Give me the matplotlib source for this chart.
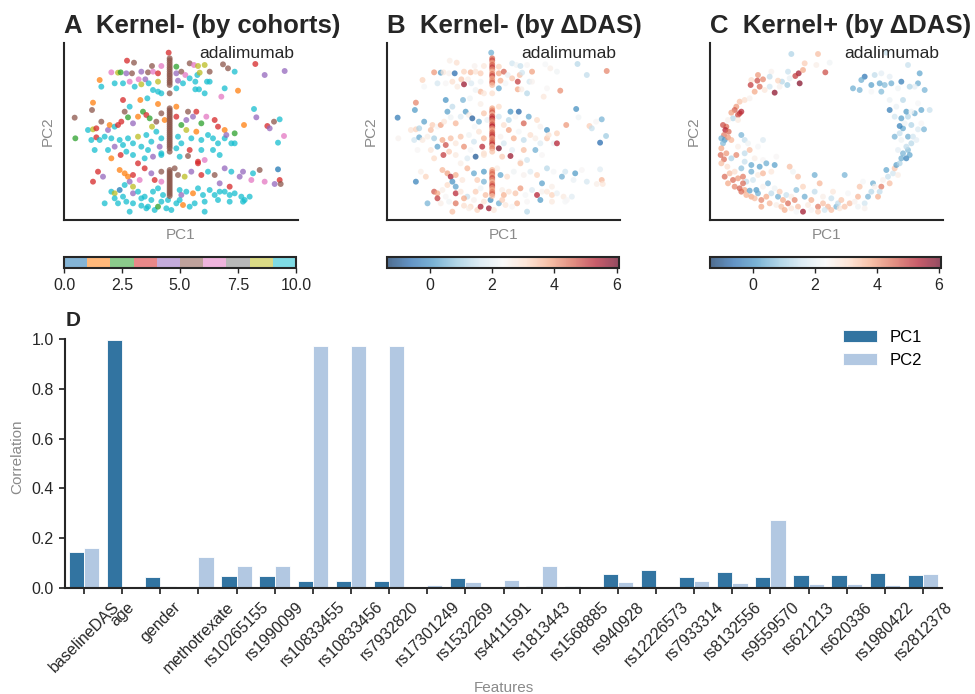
import numpy as np
import matplotlib
matplotlib.use("Agg")
import matplotlib.pyplot as plt
from matplotlib.colors import ListedColormap, Normalize, to_rgba
from matplotlib.cm import ScalarMappable

plt.rcParams['font.family'] = ['Liberation Sans', 'DejaVu Sans']

# ---------------- Data: Kernel- embedding (shared by panels A and B) ----------------
kminus_pc1 = [
    32.2, 19.7, 21.8, 27.2, 30.0, 34.5, 38.5, 39.8, 41.0, 43.0, 48.5, 50.0, 52.0, 58.2, 61.0, 67.0,
    15.0, 17.0, 17.8, 19.5, 21.2, 24.0, 26.0, 27.5, 29.0, 34.5, 36.0, 37.2, 40.8, 41.5, 44.5,
    11.5, 16.0, 18.5, 20.5, 23.2, 24.0, 25.2, 26.2, 29.0, 35.0, 36.5, 38.5, 40.2, 43.7, 44.5,
    12.0, 22.0, 29.0, 27.5, 30.0, 34.5, 40.2, 41.3, 43.0, 49.0, 53.0, 48.0, 18.5, 23.7, 25.8,
    9.5, 9.2, 20.5, 29.0, 34.5, 57.8,
    4.0, 12.0, 8.0, 9.5, 10.5, 4.2, 9.0, 10.5, 11.5, 14.0, 14.5, 16.0, 17.0, 18.0, 19.0, 20.0,
    21.5, 23.0, 24.5, 25.5, 26.5, 27.2, 28.5, 30.0, 31.0, 34.5, 36.0, 37.5, 38.0, 39.5, 40.5,
    42.0, 43.5, 46.0, 47.0, 49.0, 52.0, 54.8, 58.5, 61.8, 63.8, 65.5, 62.5, 66.8, 65.0,
    13.0, 15.0, 16.0, 17.5, 18.5, 20.0, 21.5, 23.0, 24.0, 25.5, 27.0, 28.5, 30.0, 29.5, 35.0,
    36.0, 37.5, 39.0, 40.5, 42.0, 44.0, 45.5, 47.0, 49.0, 51.0, 52.0, 49.5,
    10.0, 14.0, 19.5, 21.5, 26.0, 30.0, 34.5, 38.5, 42.0, 45.5, 47.5, 15.0, 23.0, 25.0, 30.0,
    35.5, 41.0, 43.0, 17.8, 27.5, 38.0,
    11.0, 9.5, 12.5, 17.5, 19.0, 20.0, 21.5, 20.5, 21.5, 23.5, 25.0, 27.0, 28.0, 30.0, 30.0,
    34.0, 35.0, 37.0, 39.0, 41.0, 42.0, 44.0, 46.0, 47.5, 49.0, 50.5, 51.0, 53.5, 54.5, 57.5,
    59.5, 57.0, 61.0, 64.0, 65.5, 65.8, 65.0,
    15.0, 16.0, 17.5, 19.0, 16.0, 18.5, 21.5, 23.0, 25.0, 27.5, 29.0, 30.5, 35.5, 36.0, 37.5,
    39.5, 41.0, 42.5, 44.5, 46.0, 47.5, 49.0, 50.5, 52.0, 54.0, 55.0, 56.5,
    13.0, 17.0, 19.5, 21.5, 24.0, 26.0, 27.0, 30.0, 32.0, 34.5, 35.5, 36.5, 40.0, 43.0, 47.0,
    50.5, 54.5, 20.5, 25.5, 28.0, 31.5, 33.0, 38.5, 43.0, 24.0, 29.0,
    # vertical stripe
    32.5, 32.5, 32.5, 32.5, 32.5, 32.5, 32.5, 32.5, 32.5, 32.5, 32.5, 32.5, 32.5, 32.5,
    32.5, 32.5, 32.5, 32.5, 32.5, 32.5, 32.5, 32.5, 32.5, 32.5, 32.5, 32.5, 32.5, 32.5,
    32.5, 32.5, 32.5, 32.5, 32.5, 32.5, 32.5, 32.5,
    32.5, 32.5, 32.5, 32.5, 32.5, 32.5, 32.5, 32.5, 32.5, 32.5, 32.5, 32.5, 32.5, 32.5,
]
kminus_pc2 = [
    50.2, 47.8, 47.2, 46.2, 46.2, 46.0, 47.0, 46.5, 46.2, 46.5, 46.7, 45.5, 44.5, 46.8, 43.5, 44.7,
    44.3, 44.2, 44.3, 44.0, 44.0, 44.5, 44.3, 44.5, 44.0, 44.0, 44.5, 43.5, 43.5, 44.2, 44.5,
    42.0, 41.0, 41.0, 41.5, 42.2, 40.7, 42.2, 41.0, 41.5, 41.8, 41.0, 42.5, 41.5, 41.5, 41.5,
    40.0, 40.0, 38.5, 39.0, 38.0, 39.5, 39.2, 39.2, 38.0, 39.5, 38.8, 37.0, 36.0, 36.0, 36.5,
    35.2, 33.0, 34.0, 34.8, 34.0, 33.3,
    30.7, 29.5, 27.0, 27.2, 27.5, 24.5, 24.0, 24.8, 24.0, 27.0, 28.5, 28.0, 28.5, 29.5, 32.5, 30.8,
    29.0, 31.0, 32.5, 31.5, 30.5, 28.0, 29.5, 32.0, 30.0, 31.0, 28.5, 30.0, 32.5, 31.0, 32.5,
    29.0, 31.0, 30.0, 28.0, 27.0, 26.0, 28.5, 30.8, 28.2, 29.5, 30.2, 27.5, 25.2, 23.2,
    25.0, 24.5, 22.0, 24.0, 22.5, 24.5, 23.0, 25.0, 22.0, 25.5, 23.5, 26.5, 24.5, 22.0, 25.0,
    23.0, 27.0, 24.5, 26.5, 24.0, 25.5, 24.5, 23.0, 24.5, 23.0, 23.0, 25.5,
    21.0, 21.0, 20.5, 19.5, 21.0, 20.0, 21.5, 21.0, 21.0, 21.0, 19.5, 18.5, 17.0, 18.5, 19.5,
    19.0, 17.5, 18.0, 19.5, 19.0, 19.2,
    14.5, 11.5, 13.0, 15.0, 14.0, 13.0, 13.5, 11.5, 10.0, 12.0, 15.5, 14.0, 12.0, 14.5, 11.5,
    15.5, 13.5, 13.0, 14.5, 17.0, 13.5, 14.5, 13.5, 11.0, 15.5, 10.0, 14.5, 13.0, 14.5, 14.0,
    15.0, 12.0, 11.5, 10.8, 12.0, 10.8, 15.2,
    8.5, 8.0, 9.0, 10.5, 6.5, 7.0, 8.0, 8.5, 7.0, 8.5, 9.5, 7.5, 9.0, 7.5, 8.5,
    8.0, 9.5, 7.5, 9.0, 7.5, 8.5, 8.5, 7.5, 8.0, 7.0, 6.0, 7.0,
    5.0, 5.0, 5.5, 5.0, 6.5, 4.0, 6.0, 5.5, 6.0, 5.0, 6.0, 4.5, 5.0, 5.5, 6.0,
    5.5, 5.5, 2.5, 3.5, 3.0, 3.5, 3.0, 4.0, 2.5, 4.3, 4.0,
    # vertical stripe
    48.5, 47.9, 47.2, 46.5, 45.8, 45.2, 44.5, 43.8, 43.2, 42.5, 41.8, 41.2, 40.5, 38.0,
    33.5, 32.9, 32.3, 31.7, 31.1, 30.5, 29.9, 29.3, 28.7, 28.1, 27.5, 26.9, 26.3, 25.7,
    25.1, 24.5, 23.9, 23.3, 22.7, 22.1, 21.5, 20.5,
    15.0, 14.4, 13.8, 13.2, 12.6, 12.0, 11.4, 10.8, 10.2, 9.6, 9.0, 8.4, 7.8, 7.2,
]
kminus_cohort = [
    3, 3, 5, 5, 6, 2, 5, 6, 8, 8, 5, 5, 9, 3, 4, 4,
    6, 8, 2, 4, 5, 4, 5, 6, 3, 4, 5, 6, 9, 8, 5,
    1, 9, 9, 6, 6, 8, 4, 9, 8, 4, 9, 9, 9, 9, 9,
    9, 9, 9, 9, 9, 9, 9, 9, 9, 9, 1, 6, 3, 1, 9,
    1, 5, 9, 1, 1, 9,
    5, 5, 9, 8, 3, 2, 9, 3, 9, 4, 1, 9, 3, 3, 5, 2,
    4, 1, 2, 3, 2, 8, 5, 5, 1, 3, 2, 4, 5, 4, 3,
    2, 6, 3, 3, 1, 2, 1, 4, 3, 5, 9, 4, 6, 9,
    9, 9, 4, 9, 9, 9, 9, 8, 9, 9, 9, 9, 9, 4, 9,
    9, 8, 9, 1, 9, 9, 9, 9, 9, 9, 9, 4,
    9, 9, 9, 9, 9, 9, 9, 3, 9, 9, 9, 1, 3, 9, 9,
    9, 3, 6, 3, 4, 5,
    3, 3, 4, 1, 1, 1, 3, 4, 8, 6, 3, 4, 3, 5, 6,
    5, 5, 8, 4, 3, 3, 9, 5, 4, 4, 3, 9, 4, 4, 9,
    5, 6, 6, 4, 3, 5, 0,
    9, 8, 0, 9, 9, 9, 4, 9, 9, 9, 9, 9, 9, 4, 9,
    1, 9, 9, 9, 9, 9, 9, 9, 9, 9, 9, 9,
    9, 9, 9, 9, 9, 9, 9, 9, 9, 9, 9, 1, 9, 9, 9,
    9, 9, 9, 9, 9, 9, 9, 9, 9, 9, 2,
    # vertical stripe
    5, 5, 5, 5, 5, 5, 5, 5, 5, 5, 5, 5, 5, 5,
    5, 5, 5, 5, 5, 5, 5, 5, 5, 5, 5, 5, 5, 5,
    5, 5, 5, 5, 5, 5, 5, 5,
    5, 5, 5, 5, 5, 5, 5, 5, 5, 5, 5, 5, 5, 5,
]
kminus_ddas = [
    0.5, 2.6, 3.0, 2.5, 2.8, 3.2, 1.6, 2.2, 1.5, 2.4, 2.3, 2.6, 2.2, 1.3, 1.4, 4.2,
    4.0, 0.2, 2.8, 2.5, -0.6, 3.2, 3.6, 2.9, 3.3, 3.8, 4.6, 2.1, 3.5, 1.6, 3.9,
    3.2, 1.7, 2.4, 3.0, 3.4, 5.6, 2.6, 1.8, 2.2, 3.7, 2.3, 3.4, 5.0, 1.7, 2.5,
    2.3, 2.7, 3.6, 2.2, 2.8, 0.4, 3.8, 2.6, 1.3, 2.4, 4.1, 2.8, 0.1, 0.6, 2.2,
    4.2, 0.2, 1.4, 2.6, 3.1, 0.0,
    -0.3, 0.3, 2.9, 3.2, 1.2, 2.5, 1.6, 0.4, 2.7, 3.5, 3.3, 2.4, 3.9, 2.8, 0.3, 2.2,
    3.6, 1.8, 0.2, 2.6, -0.8, 2.3, 0.5, 3.4, 2.1, 1.6, 3.0, 1.3, 0.1, 2.4, -0.7,
    4.6, 0.4, 3.1, 2.5, 0.0, 3.2, 4.0, 2.2, 3.3, 2.4, 0.6, 1.5, 1.0, -0.6,
    2.6, 1.1, 0.3, 3.8, 4.8, 3.5, 2.8, 3.4, 4.1, 2.2, 1.6, 2.9, 3.6, 5.2, 2.5,
    1.7, 3.9, 3.7, 2.3, 1.4, 3.0, 2.6, 1.9, 3.4, 2.1, 5.3, 2.9,
    2.4, 2.8, 3.3, 2.7, 2.3, 3.0, 5.9, 2.0, 3.5, 0.5, 2.4, 3.1, 2.6, 1.8, 2.9,
    3.3, 2.4, 1.6, 5.0, -0.9, 5.6,
    2.6, -0.2, 3.2, 3.6, 3.9, 5.4, 3.7, 0.1, 0.3, 2.8, 3.6, 0.4, 3.3, 0.2, 0.6,
    2.6, 0.4, 3.0, 2.2, 3.4, 2.5, 1.9, 3.2, 0.3, 1.3, 2.6, 2.3, 0.5, 1.6, 0.2,
    2.4, 2.1, 1.7, 2.6, 3.6, 2.8, 1.9,
    4.7, 3.8, 2.6, 3.1, 5.0, 2.4, 5.2, 2.8, 1.5, 3.3, 2.2, 3.5, 2.6, 3.7, 2.9,
    3.4, 4.0, 2.3, 1.8, 5.3, 2.5, 2.8, 3.2, 2.1, 2.7, 2.4, 1.9,
    0.6, 2.6, 2.2, 4.4, 3.8, 3.1, 2.5, 2.9, 0.0, 0.5, 3.3, 2.8, 3.6, 2.4, 0.2,
    2.7, 2.3, 3.5, 2.6, 3.2, 5.6, 2.8, 2.4, 1.3, 3.0, 5.4,
    # vertical stripe
    4.5, 4.8, 3.9, 4.6, 5.0, 4.2, 3.6, 4.4, 4.9, 3.8, 4.1, 4.6, 3.5, 3.0,
    3.8, 4.2, 4.6, 3.5, 4.9, 5.2, 4.4, 4.0, 4.7, 5.3, 4.1, 3.7, 4.5, 4.8,
    5.0, 3.9, 4.3, 4.6, 5.1, 3.6, 4.2, 3.4,
    3.7, 4.2, 4.5, 3.9, 4.8, 4.1, 3.6, 4.4, 4.9, 4.0, 3.8, 4.3, 4.6, 3.5,
]

# ---------------- Data: Kernel+ embedding (panel C) ----------------
kplus_pc1 = [
    25.0, 33.0, 29.0, 32.5, 36.5, 35.2, 27.2, 28.5, 26.2, 24.0, 24.5, 22.2, 21.0, 23.8, 27.5,
    19.0, 18.5, 15.0, 13.0, 14.8, 16.5, 15.5, 12.8, 14.0, 20.0, 21.5, 18.5, 17.0,
    9.5, 11.0, 12.5, 8.5, 9.5, 9.0, 10.0, 8.0, 7.0, 7.5, 6.0, 9.0, 5.5, 4.5, 5.2, 6.2, 4.8,
    4.0, 5.0, 4.5, 6.0, 7.0, 10.0, 11.0, 12.0, 9.0, 4.0, 3.8, 5.5, 4.8, 7.0, 4.0, 5.8,
    8.5, 11.0, 12.5, 15.0, 16.5, 14.0, 6.5, 5.0, 8.0, 10.0, 11.0, 13.0, 15.5, 16.5, 17.5,
    20.0, 20.5, 19.0, 6.0, 7.5, 9.0, 10.5, 11.5, 13.0, 13.5, 15.0, 16.5, 8.0, 9.5, 11.0,
    10.5, 12.5, 14.5, 15.0, 13.0, 16.5, 18.0, 10.0, 11.5, 14.0, 16.0, 17.5, 19.0, 20.0,
    21.0, 21.5, 22.5, 24.0, 23.5, 25.0, 26.0, 26.5, 27.0, 24.5, 25.5, 28.5, 29.0, 28.5,
    27.0, 30.0, 31.0, 32.0, 32.0, 33.5, 33.0, 34.5, 34.5, 36.0, 37.0, 37.5, 38.5, 39.0,
    40.0, 41.0, 42.0, 42.5, 44.0, 45.0, 45.5, 46.5, 47.0, 48.0, 49.0, 49.5, 50.0, 51.0,
    52.0, 51.5, 52.5, 53.5, 54.0, 54.5, 55.5, 56.0, 56.5, 57.0, 57.5, 58.0, 58.5, 59.5,
    60.0, 60.5, 59.5, 61.0, 57.0, 56.0, 57.5, 58.0, 60.0, 61.5, 62.5, 58.5, 57.5, 59.0,
    61.0, 63.0, 64.8, 64.0, 56.0, 58.0, 60.0, 62.0, 64.0, 66.5, 54.5, 56.5, 59.5, 61.0,
    63.0, 63.0, 65.0, 62.0, 60.5, 58.0, 57.0, 55.0, 53.0, 51.5, 49.0, 47.0, 46.0, 50.0,
    52.0, 45.5, 43.5, 49.0, 52.0, 63.5, 60.0, 53.5, 54.5, 58.5, 54.5,
    18.5, 20.5, 22.0, 25.0, 31.0, 33.0, 35.0, 37.0, 39.5, 41.0, 45.0, 47.0, 23.0, 26.5, 16.0,
]
kplus_pc2 = [
    49.8, 49.8, 47.0, 46.5, 47.2, 44.3, 44.0, 45.0, 43.2, 44.5, 42.5, 41.5, 41.8, 40.5, 41.0,
    44.5, 43.0, 43.5, 42.0, 41.8, 42.2, 40.0, 40.5, 38.5, 38.2, 40.0, 40.0, 39.0,
    35.5, 36.0, 36.5, 34.0, 32.0, 31.5, 32.5, 33.0, 32.2, 30.5, 30.0, 30.0, 28.0, 28.5, 27.0,
    26.5, 25.5,
    24.5, 24.0, 23.0, 24.8, 24.0, 25.5, 24.0, 23.0, 22.0, 21.5, 19.5, 20.0, 18.2, 18.5, 17.0,
    16.0,
    19.5, 20.0, 21.0, 22.0, 24.0, 18.5, 14.0, 13.0, 14.5, 15.5, 17.5, 16.5, 16.0, 18.0, 17.0,
    16.5, 19.0, 14.5, 11.0, 12.0, 12.5, 13.0, 11.5, 14.5, 12.0, 13.5, 14.0, 10.0, 9.5, 9.0,
    11.0, 8.8, 9.0, 8.0, 7.0, 10.0, 11.0, 8.5, 7.5, 6.5, 6.0, 7.0, 8.0, 9.5,
    7.0, 8.5, 6.0, 5.0, 7.5, 7.0, 6.0, 9.0, 13.0, 16.0, 14.5, 10.0, 7.0, 2.5,
    4.0, 4.5, 6.0, 8.5, 13.5, 11.0, 4.0, 5.0, 7.0, 4.0, 6.5, 8.5, 4.0, 5.0,
    6.0, 13.5, 8.0, 5.0, 5.5, 7.0, 10.0, 11.5, 5.0, 7.0, 8.5, 11.0, 10.0, 7.0,
    10.0, 8.5, 12.0, 15.0, 13.0, 11.0, 14.0, 15.5, 16.5, 13.5, 17.0, 18.5, 20.0, 18.5,
    21.0, 19.5, 22.0, 23.0, 21.0, 25.0, 26.0, 24.0, 25.0, 25.0, 24.0, 27.5, 28.2, 29.0,
    28.5, 27.2, 27.2, 29.0, 31.0, 30.5, 31.0, 32.0, 33.0, 33.0, 33.0, 34.0, 32.5, 32.5,
    35.0, 41.0, 39.0, 40.0, 40.0, 41.5, 39.5, 41.0, 40.5, 41.0, 40.5, 43.0, 42.0, 43.5,
    44.0, 39.0, 39.5, 38.5, 38.5, 44.0, 46.5, 50.2, 43.0, 36.0, 36.0,
    5.0, 4.5, 4.0, 3.5, 3.0, 2.5, 3.0, 3.0, 3.5, 4.0, 4.0, 3.5, 3.0, 2.5, 4.0,
]
kplus_ddas = [
    1.2, 3.5, 3.3, 2.6, 2.2, 4.8, 5.5, 3.8, 5.0, 1.5, 2.1, 1.3, 3.2, 1.0, 5.8,
    2.5, 1.4, 4.0, 3.0, 4.8, 4.2, 4.5, 5.0, 3.8, 5.7, 2.5, 1.6, 2.8,
    3.4, 3.0, 2.5, 4.0, 5.0, 4.8, 5.2, 4.6, 3.9, 1.3, 2.5, 2.7, 4.5, 4.8, 5.3, 4.5, 4.3,
    0.5, 0.2, 0.7, 4.0, 3.6, 0.6, 1.5, 2.2, 2.6, 3.8, 4.5, 4.0, 4.5, 1.2, 3.5, 3.0,
    4.2, 1.4, 3.5, 2.3, 1.8, 2.6, 3.5, 4.5, 3.0, 0.8, 1.5, 0.4, 0.3, 2.4, 0.5,
    0.3, 2.4, 2.8, 3.8, 4.5, 4.0, 4.3, 1.4, 0.5, 1.6, 2.7, 3.6, 4.2, 4.6, 3.8,
    4.5, 0.3, 0.2, 0.5, 3.8, 2.5, 0.6, 4.5, 3.7, 3.5, 4.2, 3.8, 1.4, 2.2,
    0.5, 3.3, 3.8, 4.5, 1.5, 2.6, 4.2, 0.8, 3.5, 3.5, 2.2, 3.2, 0.5, 5.5,
    3.5, 2.7, 3.7, 1.4, 0.5, 3.6, 4.3, 3.5, 2.6, 3.6, 1.5, 2.8, 0.6, 1.4,
    3.4, 0.6, 2.3, 3.5, 2.5, 3.6, 3.4, 2.3, 1.6, 0.6, 1.3, 0.5, 2.5, 3.7,
    4.3, 1.4, 2.5, 0.4, 1.5, 3.5, 1.6, 3.4, 0.3, 2.6, 1.2, 0.5, 0.6, -0.2,
    0.7, 0.4, 1.4, 1.3, 2.0, 0.6, 1.5, 2.2, 0.5, 1.6, 2.0, 0.4, -0.2, 2.2,
    1.2, 1.8, 0.6, 2.4, 1.6, 0.3, 1.3, 0.5, 0.4, 1.5, -0.3, 2.1, 0.2, 2.2,
    2.3, 0.5, 0.6, 2.0, 1.2, -0.3, 2.2, 0.5, 0.7, 0.4, 0.3, -0.4, 0.5, 1.4,
    2.0, 0.6, 0.5, 2.3, 0.7, 0.4, 1.5, 1.5, 2.0, 1.3, 2.1,
    3.6, 2.6, 3.4, 2.8, 2.4, 3.3, 1.6, 3.5, 2.8, 3.4, 2.2, 2.5, 3.7, 2.3, 3.8,
]

# ---------------- Data: panel D ----------------
features = ["baselineDAS", "age", "gender", "methotrexate", "rs10265155", "rs1990099",
            "rs10833455", "rs10833456", "rs7932820", "rs17301249", "rs1532269", "rs4411591",
            "rs1813443", "rs1568885", "rs940928", "rs12226573", "rs7933314", "rs8132556",
            "rs9559570", "rs621213", "rs620336", "rs1980422", "rs2812378"]
corr_pc1 = [0.145, 0.997, 0.044, 0.003, 0.048, 0.048, 0.029, 0.029, 0.029, 0.001, 0.039, 0.001,
            0.009, 0.008, 0.055, 0.074, 0.044, 0.066, 0.044, 0.052, 0.052, 0.060, 0.052]
corr_pc2 = [0.162, 0.001, 0.007, 0.123, 0.087, 0.087, 0.972, 0.972, 0.972, 0.012, 0.024, 0.032,
            0.090, 0.001, 0.024, 0.001, 0.028, 0.020, 0.272, 0.017, 0.017, 0.012, 0.056]

cohort_ticks = [0, 2.5, 5, 7.5, 10]
ddas_ticks = [0, 2, 4, 6]

# ---------------- Styling ----------------
DARK = '#262626'
GREY = '#8a8a8a'
W, H = 975, 694

fig = plt.figure(figsize=(W / 100, H / 100), dpi=100)

def fbox(l, t, r, b):
    return [l / W, 1 - b / H, (r - l) / W, (b - t) / H]

tab10 = plt.get_cmap('tab10').colors
rdbu = plt.get_cmap('RdBu_r')
dnorm = Normalize(-1.37, 6.07)

def style_scatter(ax, title, xlim):
    for s in ['top', 'right']:
        ax.spines[s].set_visible(False)
    for s in ['left', 'bottom']:
        ax.spines[s].set_linewidth(1.5)
        ax.spines[s].set_color(DARK)
    ax.set_xticks([])
    ax.set_yticks([])
    ax.set_xlim(*xlim)
    ax.set_ylim(0, 53.1)
    ax.set_xlabel('PC1', color=GREY, fontsize=11, labelpad=6)
    ax.set_ylabel('PC2', color=GREY, fontsize=11, labelpad=7)
    ax.set_title(title, loc='left', fontweight='bold', fontsize=18.5, pad=7, color=DARK)
    ax.text(0.985, 0.985, 'adalimumab', transform=ax.transAxes, ha='right', va='top',
            fontsize=12.5, color=DARK)

def style_cbar(cb, ticks, fmt):
    cb.outline.set_linewidth(1.5)
    cb.outline.set_edgecolor(DARK)
    cb.set_ticks(ticks)
    cb.set_ticklabels([fmt.format(t) for t in ticks])
    cb.ax.tick_params(labelsize=11.5, length=3.5, width=1, colors=DARK, direction='out')

PT = dict(s=18, linewidths=0)

# Panel A
axA = fig.add_axes(fbox(64, 43, 298, 220))
colsA = [tab10[c] for c in kminus_cohort]
axA.scatter(kminus_pc1, kminus_pc2, c=colsA, alpha=0.75, **PT)
style_scatter(axA, 'A  Kernel- (by cohorts)', (0.8, 71.0))
caxA = fig.add_axes(fbox(64, 257, 296, 268))
cmapA = ListedColormap([to_rgba(c, 0.55) for c in tab10])
cbA = fig.colorbar(ScalarMappable(norm=Normalize(0, 10), cmap=cmapA), cax=caxA, orientation='horizontal')
style_cbar(cbA, cohort_ticks, '{:.1f}')

# Panel B
axB = fig.add_axes(fbox(387, 43, 620, 220))
axB.scatter(kminus_pc1, kminus_pc2, c=kminus_ddas, cmap='RdBu_r', norm=dnorm, alpha=0.72, **PT)
style_scatter(axB, 'B  Kernel- (by \u0394DAS)', (0.8, 71.0))
caxB = fig.add_axes(fbox(387, 257, 619, 268))
cmapD = ListedColormap([(*rdbu(v)[:3], 0.7) for v in np.linspace(0, 1, 256)])
cbB = fig.colorbar(ScalarMappable(norm=dnorm, cmap=cmapD), cax=caxB, orientation='horizontal')
style_cbar(cbB, ddas_ticks, '{:d}')

# Panel C
axC = fig.add_axes(fbox(710, 43, 943, 220))
axC.scatter(kplus_pc1, kplus_pc2, c=kplus_ddas, cmap='RdBu_r', norm=dnorm, alpha=0.72, **PT)
style_scatter(axC, 'C  Kernel+ (by \u0394DAS)', (0.6, 70.5))
caxC = fig.add_axes(fbox(710, 257, 941, 268))
cbC = fig.colorbar(ScalarMappable(norm=dnorm, cmap=cmapD), cax=caxC, orientation='horizontal')
style_cbar(cbC, ddas_ticks, '{:d}')

# Panel D
axD = fig.add_axes(fbox(65, 326.5, 942, 588))
x = np.arange(len(features))
axD.bar(x - 0.2, corr_pc1, 0.4, color='#3274a1', edgecolor='white', linewidth=0.6, label='PC1')
axD.bar(x + 0.2, corr_pc2, 0.4, color='#b2c8e2', edgecolor='white', linewidth=0.6, label='PC2')
axD.set_xlim(-0.5, len(features) - 0.5)
axD.set_ylim(0, 1.05)
axD.set_yticks([0, 0.2, 0.4, 0.6, 0.8, 1.0])
axD.set_yticklabels(['0.0', '0.2', '0.4', '0.6', '0.8', '1.0'])
axD.set_xticks(x)
axD.set_xticklabels(features, rotation=45, ha='center')
axD.tick_params(labelsize=11.5, length=4.5, width=1.25, colors=DARK)
for s in ['top', 'right']:
    axD.spines[s].set_visible(False)
for s in ['left', 'bottom']:
    axD.spines[s].set_linewidth(1.5)
    axD.spines[s].set_color(DARK)
axD.spines['left'].set_bounds(0, 1.0)
axD.set_xlabel('Features', color=GREY, fontsize=11)
axD.set_ylabel('Correlation', color=GREY, fontsize=11, labelpad=5)
leg = axD.legend(frameon=False, fontsize=12, loc='upper right', bbox_to_anchor=(0.995, 1.045))
fig.text(66 / W, 1 - 326 / H, 'D', fontweight='bold', fontsize=15, color=DARK, va='baseline')

fig.savefig('out.png', dpi=100)
